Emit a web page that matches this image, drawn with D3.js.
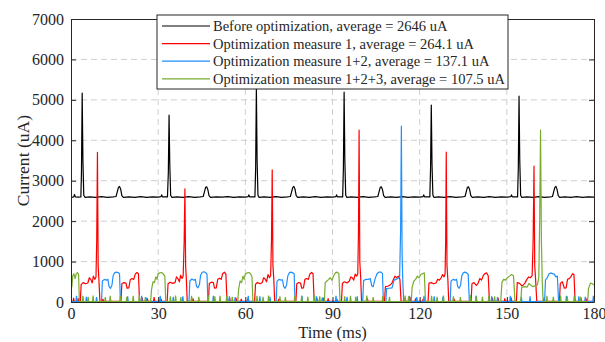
<!DOCTYPE html>
<html>
<head>
<meta charset="utf-8">
<script src="https://cdn.jsdelivr.net/npm/d3@7"></script>
<style>
  body { margin: 0; background: #fff; }
  svg text { font-family: "Liberation Serif", "Times New Roman", serif; fill: #262626; }
  .axis path, .axis line { stroke: #262626; }
</style>
</head>
<body>
<svg id="chart" width="605" height="342"></svg>
<script>
//tick values for both axes
var xTicks = [0, 30, 60, 90, 120, 150, 180];
var yTicks = [0, 1000, 2000, 3000, 4000, 5000, 6000, 7000];

//legend labels, in plot order
var seriesNames = [
  "Before optimization, average = 2646 uA",
  "Optimization measure 1, average = 264.1 uA",
  "Optimization measure 1+2, average = 137.1 uA",
  "Optimization measure 1+2+3, average = 107.5 uA"
];
var seriesColors = ["#000000", "#ff0000", "#1e90ff", "#77ac30"];

//[time ms, current uA]
var before = [
  [0,2600],[0.6,2590],[1.0,2605],[1.2,2660],[1.5,2600],[2.4,2595],[3.4,2600],[3.6,3200],[3.85,5170],[4.1,3500],[4.4,2640],[4.8,2590],[6.5,2600],[8.5,2590],[10.5,2605],[12.5,2590],[14.5,2600],[15.5,2610],[15.9,2720],[16.3,2830],[16.7,2860],[17.1,2790],[17.5,2630],[18.0,2590],[20,2600],[22,2590],[24,2605],[26,2590],[28,2600],[30,2595],
  [31.0,2605],[31.2,2650],[31.5,2600],[33.2,2600],[33.5,3200],[33.75,4620],[34.0,3400],[34.3,2640],[34.7,2590],[36.5,2600],[38.5,2590],[40.5,2605],[42.5,2590],[44.5,2600],[45.5,2610],[45.9,2720],[46.3,2830],[46.7,2850],[47.1,2780],[47.5,2630],[48,2590],[50,2600],[52,2595],[54,2605],[56,2590],[58,2600],[60,2595],
  [61.0,2605],[61.2,2650],[61.5,2600],[63.3,2600],[63.55,3300],[63.8,5300],[64.05,3500],[64.35,2640],[64.7,2590],[66.5,2600],[68.5,2590],[70.5,2605],[72.5,2590],[74.5,2600],[75.5,2610],[75.9,2720],[76.3,2830],[76.7,2860],[77.1,2790],[77.5,2630],[78,2590],[80,2600],[82,2590],[84,2605],[86,2590],[88,2600],[90,2595],
  [91.2,2605],[91.4,2650],[91.7,2600],[93.5,2600],[93.75,3300],[94.0,5190],[94.25,3500],[94.55,2640],[94.9,2590],[96.5,2600],[98.5,2590],[100.5,2605],[102.5,2590],[104.5,2600],[105.6,2610],[106.0,2720],[106.4,2830],[106.8,2850],[107.2,2780],[107.6,2630],[108.1,2590],[110,2600],[112,2590],[114,2605],[116,2590],[118,2600],[120,2595],
  [121.2,2605],[121.4,2650],[121.7,2600],[123.5,2600],[123.75,3300],[124.0,4870],[124.25,3400],[124.55,2640],[124.9,2590],[126.5,2600],[128.5,2590],[130.5,2605],[132.5,2590],[134.5,2600],[135.6,2610],[136.0,2720],[136.4,2830],[136.8,2850],[137.2,2780],[137.6,2630],[138.1,2590],[140,2600],[142,2590],[144,2605],[146,2590],[148,2600],[150,2595],
  [151.4,2605],[151.6,2650],[151.9,2600],[153.7,2600],[153.95,3300],[154.2,5090],[154.45,3500],[154.75,2640],[155.1,2590],[157,2600],[159,2590],[161,2605],[163,2590],[165,2600],[165.7,2610],[166.1,2720],[166.5,2830],[166.9,2860],[167.3,2780],[167.7,2630],[168.2,2590],[170,2600],[172,2590],[174,2605],[176,2590],[178,2600],[180,2595]
];

var measure1 = [
  [0,15],[3.2,20],[3.5,430],[4.2,480],[5.0,450],[5.8,470],[6.3,600],[6.8,560],[7.3,470],[7.7,640],[8.2,560],[8.6,620],[8.85,1500],[9.1,3700],[9.35,900],[9.6,560],[9.95,20],
  [17.2,15],[17.5,450],[18.2,480],[18.9,470],[19.3,340],[19.9,350],[20.4,550],[21.0,580],[21.6,560],[22.1,690],[22.7,730],[23.2,700],[23.6,15],
  [33.1,20],[33.4,450],[34.1,490],[35.0,460],[35.8,480],[36.3,620],[36.8,580],[37.3,500],[37.7,660],[38.2,580],[38.6,640],[38.95,1500],[39.2,2800],[39.45,900],[39.7,560],[40.0,20],
  [47.3,15],[47.6,460],[48.3,490],[49.0,480],[49.4,340],[50.0,350],[50.5,560],[51.1,590],[51.7,560],[52.2,700],[52.8,740],[53.3,690],[53.7,15],
  [63.2,20],[63.5,440],[64.2,480],[65.1,450],[65.8,480],[66.3,600],[66.8,570],[67.3,500],[67.8,680],[68.3,600],[68.7,650],[69.0,1500],[69.25,3270],[69.5,900],[69.8,560],[70.1,20],
  [77.4,15],[77.7,450],[78.4,480],[79.0,470],[79.4,340],[80.0,350],[80.5,560],[81.1,580],[81.7,560],[82.2,690],[82.8,730],[83.3,700],[83.7,15],
  [93.1,20],[93.4,460],[94.1,500],[95.0,470],[95.8,520],[96.3,620],[96.8,600],[97.3,540],[97.8,690],[98.3,640],[98.7,700],[98.95,1800],[99.15,4250],[99.4,1000],[99.7,600],[100.0,20],
  [107.9,15],[108.2,380],[109.0,390],[109.8,420],[110.4,460],[111.0,560],[111.5,640],[112.1,600],[112.7,640],[113.2,560],[113.6,15],
  [122.9,20],[123.2,470],[124.0,480],[124.8,450],[125.6,470],[126.2,560],[126.8,540],[127.4,600],[127.9,680],[128.4,620],[128.75,700],[128.95,1500],[129.15,3710],[129.4,900],[129.7,560],[130.0,20],
  [137.7,15],[138.0,450],[138.7,480],[139.5,410],[140.1,460],[140.7,580],[141.3,540],[141.8,640],[142.4,700],[143.0,720],[143.6,650],[144.0,15],
  [153.3,20],[153.6,480],[154.4,460],[155.2,400],[155.7,420],[156.3,480],[156.9,560],[157.5,620],[158.1,600],[158.7,650],[159.05,1500],[159.35,3360],[159.6,900],[159.9,560],[160.3,20],
  [168.1,15],[168.4,460],[169.1,500],[169.8,340],[170.4,350],[170.9,560],[171.5,580],[172.0,620],[172.6,700],[173.1,680],[173.5,15],[180,15]
];

var measure12 = [
  [0,10],[10.5,10],[10.8,520],[11.5,560],[12.2,540],[12.7,560],[13.1,380],[13.6,340],[14.1,420],[14.5,650],[15.0,720],[15.6,740],[16.2,730],[16.7,700],[17.0,10],
  [40.6,10],[40.9,520],[41.6,570],[42.3,540],[42.8,560],[43.2,390],[43.7,350],[44.2,430],[44.6,660],[45.1,730],[45.7,750],[46.3,730],[46.8,690],[47.1,10],
  [70.6,10],[70.9,510],[71.6,560],[72.3,540],[72.8,550],[73.2,380],[73.7,340],[74.2,420],[74.6,640],[75.1,720],[75.7,740],[76.3,720],[76.8,700],[77.1,10],
  [100.4,10],[100.7,530],[101.5,560],[102.3,560],[103.0,580],[103.5,400],[104.0,380],[104.6,560],[105.3,700],[106.0,740],[106.7,740],[107.2,700],[107.5,10],
  [108.4,10],[108.6,330],[109.5,340],[110.5,350],[111.2,540],[111.8,560],[112.5,580],[113.1,620],[113.45,1800],[113.7,4350],[113.95,1200],[114.2,500],[114.5,10],
  [130.5,10],[130.8,520],[131.5,560],[132.2,540],[132.7,560],[133.1,380],[133.6,340],[134.1,420],[134.5,650],[135.0,720],[135.6,740],[136.2,720],[136.7,680],[137.1,10],
  [163.0,10],[163.3,540],[163.9,600],[164.5,690],[165.1,720],[165.7,700],[166.3,690],[166.9,620],[167.4,640],[167.8,10],[180,10]
];

var measure123 = [
  [0,350],[0.3,380],[0.6,650],[1.0,700],[1.4,580],[1.8,690],[2.2,730],[2.6,680],[2.9,10],
  [27.4,10],[27.7,300],[28.2,500],[28.7,480],[29.2,620],[29.6,560],[30.0,700],[30.6,720],[31.2,730],[31.8,690],[32.3,640],[32.6,10],
  [57.4,10],[57.7,320],[58.2,520],[58.7,480],[59.2,640],[59.6,560],[60.0,690],[60.6,720],[61.2,730],[61.8,700],[62.3,620],[62.6,10],
  [87.2,10],[87.5,480],[88.1,520],[88.7,560],[89.2,600],[89.8,540],[90.4,650],[91.0,720],[91.6,740],[92.2,700],[92.6,10],
  [117.1,10],[117.4,360],[118.0,520],[118.6,560],[119.2,640],[119.8,600],[120.4,680],[121.0,700],[121.6,720],[122.0,10],
  [147.9,10],[148.3,480],[148.9,560],[149.5,540],[150.2,600],[150.9,640],[151.6,680],[152.3,650],[152.8,10],
  [154.8,10],[155.1,360],[156.0,380],[157.0,370],[157.6,460],[158.2,420],[159.0,380],[159.8,400],[160.5,420],[161.0,600],[161.3,2000],[161.6,4250],[161.9,1500],[162.2,500],[162.5,10],
  [177.8,10],[178.1,330],[178.8,470],[179.4,450],[180,420]
];

//short current pulses near zero, [time ms, peak uA]
var measure1Pulses = [[0.9,100],[2.5,90],[11.0,80],[24.5,110],[26.3,90],[28.6,120],[31.0,80],[42.0,90],[54.6,110],[56.8,100],[58.6,80],[60.9,90],[71.5,80],[84.6,100],[86.8,110],[88.5,90],[91.5,80],[102.0,90],[115.0,100],[117.0,120],[118.6,90],[121.2,80],[131.9,80],[145.0,110],[147.0,100],[149.3,90],[151.5,110],[162.8,100],[175.5,110],[177.6,90]];
var measure12Pulses = [[1.9,150],[5.3,130],[8.8,120],[19.5,140],[24.3,150],[26.0,110],[30.7,150],[35.2,130],[38.5,140],[49.0,150],[54.5,140],[56.5,120],[61.0,150],[65.0,140],[68.5,130],[79.5,150],[84.5,140],[86.5,110],[91.2,150],[95.0,130],[98.5,140],[116.5,150],[119.0,120],[121.5,150],[125.0,140],[128.0,130],[139.5,150],[144.8,140],[146.8,120],[151.2,150],[155.0,130],[158.0,140],[170.5,150],[174.8,140],[177.0,130],[179.8,150]];
var measure123Pulses = [[4.1,150],[5.9,130],[7.6,160],[11.8,120],[13.5,150],[17.0,160],[19.2,130],[21.4,150],[23.5,170],[25.6,120],[34.2,140],[36.0,160],[37.8,120],[41.5,150],[44.0,130],[47.2,170],[49.5,140],[51.3,150],[53.6,160],[55.5,130],[64.0,150],[66.1,130],[68.0,160],[71.9,140],[73.8,120],[77.0,160],[79.4,150],[81.5,130],[83.8,170],[85.6,140],[94.2,140],[96.2,150],[98.0,130],[101.8,160],[104.0,120],[107.3,150],[109.6,130],[115.0,160],[116.2,140],[124.1,150],[126.0,130],[128.2,160],[131.6,140],[134.0,120],[137.4,170],[139.4,150],[141.6,130],[143.8,160],[145.8,140],[163.8,150],[166.0,130],[168.5,160],[170.8,140],[173.2,150],[175.4,130]];

var series = [before, measure1, measure12, measure123];
var pulses = [[], measure1Pulses, measure12Pulses, measure123Pulses];

//plot box
var margin = {top: 19, right: 11, bottom: 40, left: 71},
    width = 605 - margin.left - margin.right,
    height = 342 - margin.top - margin.bottom;

var svg = d3.select("#chart");
var g = svg.append("g")
    .attr("transform", "translate(" + margin.left + "," + margin.top + ")");

var x = d3.scaleLinear().domain([0, 180]).range([0, width]);
var y = d3.scaleLinear().domain([0, 7000]).range([height, 0]);

//dashed grid
g.append("g").selectAll("line")
    .data(xTicks.slice(1, -1))
    .enter().append("line")
    .attr("x1", d => x(d)).attr("x2", d => x(d))
    .attr("y1", 0).attr("y2", height)
    .attr("stroke", "#cfcfcf")
    .attr("stroke-dasharray", "6,4");
g.append("g").selectAll("line")
    .data(yTicks.slice(1, -1))
    .enter().append("line")
    .attr("x1", 0).attr("x2", width)
    .attr("y1", d => y(d)).attr("y2", d => y(d))
    .attr("stroke", "#cfcfcf")
    .attr("stroke-dasharray", "6,4");

g.append("clipPath").attr("id", "clip")
  .append("rect").attr("width", width).attr("height", height + 1);

var line = d3.line().x(d => x(d[0])).y(d => y(d[1]));
var plot = g.append("g").attr("clip-path", "url(#clip)");

series.forEach(function(s, i) {
  plot.append("path")
      .datum(s)
      .attr("fill", "none")
      .attr("stroke", seriesColors[i])
      .attr("stroke-width", 1.2)
      .attr("stroke-linejoin", "round")
      .attr("d", line);
  //pulses drawn as narrow spikes
  plot.append("g").selectAll("path")
      .data(pulses[i])
      .enter().append("path")
      .attr("fill", "none")
      .attr("stroke", seriesColors[i])
      .attr("stroke-width", 1.2)
      .attr("d", d => line([[d[0] - 0.2, 10], [d[0], d[1]], [d[0] + 0.2, 10]]));
});

//axes, ticks pointing inwards
g.append("g")
    .attr("class", "axis")
    .attr("transform", "translate(0," + height + ")")
    .call(d3.axisBottom(x).tickValues(xTicks).tickSizeInner(-5).tickSizeOuter(0).tickPadding(6))
    .call(a => a.selectAll("text").attr("font-size", 16));
g.append("g")
    .attr("class", "axis")
    .call(d3.axisLeft(y).tickValues(yTicks).tickFormat(d3.format("d")).tickSizeInner(-5).tickSizeOuter(0).tickPadding(7))
    .call(a => a.selectAll("text").attr("font-size", 16));
g.append("g")
    .attr("class", "axis")
    .call(d3.axisTop(x).tickValues(xTicks).tickSizeInner(-5).tickSizeOuter(0).tickFormat(""));
g.append("g")
    .attr("class", "axis")
    .attr("transform", "translate(" + width + ",0)")
    .call(d3.axisRight(y).tickValues(yTicks).tickSizeInner(-5).tickSizeOuter(0).tickFormat(""));
g.selectAll(".axis .domain").attr("stroke", "#262626");

//axis labels
svg.append("text")
    .attr("x", margin.left + width / 2)
    .attr("y", 338)
    .attr("text-anchor", "middle")
    .attr("font-size", 16.5)
    .text("Time (ms)");
svg.append("text")
    .attr("transform", "translate(29," + (margin.top + height / 2) + ") rotate(-90)")
    .attr("text-anchor", "middle")
    .attr("font-size", 17.6)
    .text("Current (uA)");

//legend
var legend = svg.append("g").attr("transform", "translate(157,15)");
legend.append("rect")
    .attr("width", 351).attr("height", 74)
    .attr("fill", "#fff").attr("stroke", "#262626").attr("stroke-width", 1);
seriesNames.forEach(function(name, i) {
  var ly = 11 + i * 17.6;
  legend.append("line")
      .attr("x1", 5).attr("x2", 53)
      .attr("y1", ly).attr("y2", ly)
      .attr("stroke", seriesColors[i]).attr("stroke-width", 1.2);
  legend.append("text")
      .attr("x", 56).attr("y", ly + 5)
      .attr("font-size", 14.5)
      .text(name);
});
</script>
</body>
</html>
